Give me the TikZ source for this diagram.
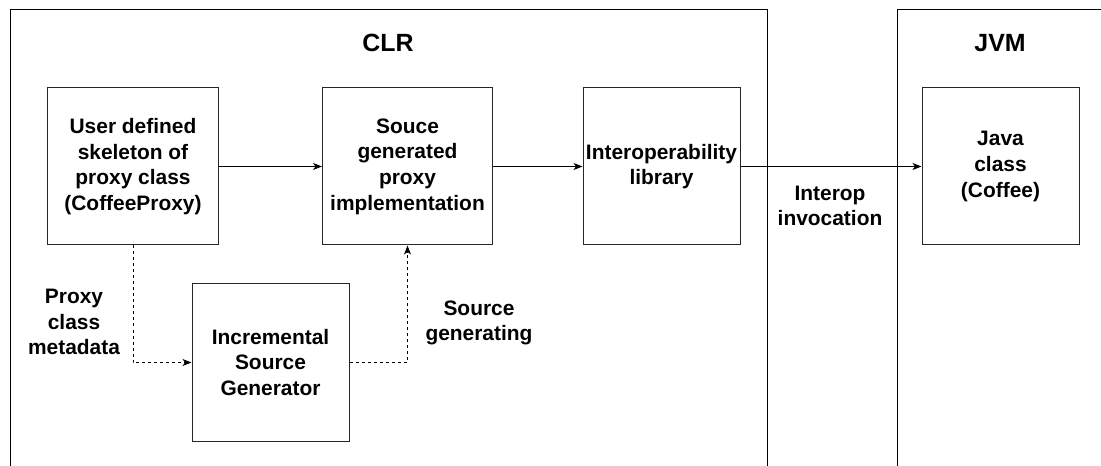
\documentclass[tikz,border=0pt]{standalone}
\usepackage{fontspec}
\setmainfont{Liberation Sans}
\usetikzlibrary{arrows.meta,positioning}

\tikzset{
  box/.style={draw=black!85, line width=1bp, minimum width=170bp, minimum height=157bp,
    align=center, inner sep=0pt, font=\fontsize{21}{25.7}\selectfont\bfseries},
  sqbox/.style={box, minimum width=157bp},
  lbl/.style={align=center, font=\fontsize{21}{25.7}\selectfont\bfseries},
  title/.style={font=\fontsize{25}{30}\selectfont\bfseries},
  flow/.style={line width=1bp, -{Stealth[length=9bp,width=7bp,inset=2.5bp]}},
  gen/.style={flow, dash pattern=on 3bp off 3bp}
}

\begin{document}
\begin{tikzpicture}[x=1bp,y=-1bp]
\useasboundingbox (0,0) rectangle (1101,466);

% runtimes
\draw[line width=1bp] (10,470)--(10,10)--(767,10)--(767,470);
\draw[line width=1bp] (897,470)--(897,10)--(1105,10);
\node[title] (clr) at (388,43) {CLR};
\node[title] (jvm) at (1000,43) {JVM};

% CLR side
\node[box] (user) at (133,166.5) {User defined\\skeleton of\\proxy class\\(CoffeeProxy)};
\node[box] (impl) at (407.5,166.5) {Souce\\generated\\proxy\\implementation};
\node[sqbox] (lib) at (661.5,166.5) {Interoperability\\library};
\node[sqbox] (gen) at (270.5,362.5) {Incremental\\Source\\Generator};

% JVM side
\node[sqbox] (java) at (1000.5,166.5) {Java\\class\\(Coffee)};

\draw[flow] (user) -- (impl);
\draw[flow] (impl) -- (lib);
\draw[flow] (lib) -- (java);
\draw[gen] (user.south) |- (gen.west);
\draw[gen] (gen.east) -| (impl.south);

\node[lbl] (meta) at (74,322) {Proxy\\class\\metadata};
\node[lbl] (srcgen) at (479,323) {Source\\generating};
\node[lbl] (invoke) at (830,206) {Interop\\invocation};
\end{tikzpicture}
\end{document}
